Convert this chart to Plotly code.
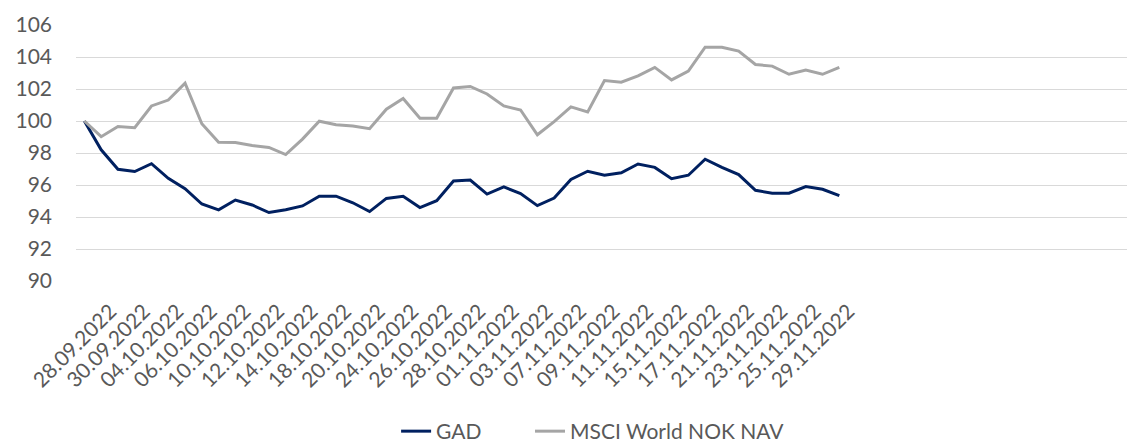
import plotly.graph_objects as go

dates = ["28.09.2022", "29.09.2022", "30.09.2022", "03.10.2022", "04.10.2022", "05.10.2022",
         "06.10.2022", "07.10.2022", "10.10.2022", "11.10.2022", "12.10.2022", "13.10.2022",
         "14.10.2022", "17.10.2022", "18.10.2022", "19.10.2022", "20.10.2022", "21.10.2022",
         "24.10.2022", "25.10.2022", "26.10.2022", "27.10.2022", "28.10.2022", "31.10.2022",
         "01.11.2022", "02.11.2022", "03.11.2022", "04.11.2022", "07.11.2022", "08.11.2022",
         "09.11.2022", "10.11.2022", "11.11.2022", "14.11.2022", "15.11.2022", "16.11.2022",
         "17.11.2022", "18.11.2022", "21.11.2022", "22.11.2022", "23.11.2022", "24.11.2022",
         "25.11.2022", "28.11.2022", "29.11.2022", "30.11.2022"]

gad = [100.0, 98.2, 96.98, 96.84, 97.33, 96.42, 95.77, 94.81, 94.45, 95.06, 94.75, 94.28,
       94.45, 94.69, 95.3, 95.3, 94.89, 94.34, 95.16, 95.3, 94.59, 95.02, 96.25, 96.31,
       95.43, 95.88, 95.47, 94.71, 95.18, 96.35, 96.86, 96.61, 96.76, 97.31, 97.1, 96.39,
       96.61, 97.61, 97.1, 96.65, 95.67, 95.49, 95.49, 95.9, 95.73, 95.33]

msci = [100.0, 99.02, 99.66, 99.58, 100.94, 101.31, 102.37, 99.83, 98.67, 98.65, 98.47, 98.35,
        97.9, 98.87, 99.99, 99.77, 99.69, 99.52, 100.74, 101.41, 100.17, 100.17, 102.06, 102.16,
        101.69, 100.94, 100.69, 99.14, 99.96, 100.88, 100.57, 102.53, 102.43, 102.82, 103.35, 102.57,
        103.12, 104.61, 104.61, 104.37, 103.53, 103.43, 102.92, 103.18, 102.92, 103.35]

tick_labels = dates[::2]
y_ticks = [90, 92, 94, 96, 98, 100, 102, 104, 106]

FONT = "Lato"
TXT = "#595959"

fig = go.Figure()
fig.add_trace(go.Scatter(x=dates, y=gad, mode="lines", name="GAD", legend="legend",
                         line=dict(color="#002060", width=3)))
fig.add_trace(go.Scatter(x=dates, y=msci, mode="lines", name="MSCI World NOK NAV",
                         legend="legend2", line=dict(color="#A5A5A5", width=3)))

leg_common = dict(orientation="h", xanchor="left", y=-0.59, yanchor="middle",
                  font=dict(family=FONT, size=21, color=TXT), bgcolor="rgba(0,0,0,0)")

fig.update_layout(
    width=1135, height=444,
    margin=dict(l=68, r=0, t=17, b=166),
    paper_bgcolor="white", plot_bgcolor="white",
    font=dict(family=FONT, size=21, color=TXT),
    showlegend=True,
    legend=dict(x=0.3, **leg_common),
    legend2=dict(x=0.4255, **leg_common),
    xaxis=dict(type="category", range=[-0.5, 63.1], tickmode="array",
               tickvals=tick_labels, ticktext=tick_labels, tickangle=-45,
               showgrid=False, zeroline=False, showline=False, ticks="",
               ticklabelshift=26, ticklabelstandoff=13,
               tickfont=dict(family=FONT, size=21, color=TXT)),
    yaxis=dict(range=[90, 106], tickvals=y_ticks, showgrid=True, gridcolor="#D9D9D9",
               gridwidth=1, zeroline=False, showline=False, ticks="",
               ticklabelstandoff=23,
               tickfont=dict(family=FONT, size=21, color=TXT)),
)

fig.write_html("out.html")
